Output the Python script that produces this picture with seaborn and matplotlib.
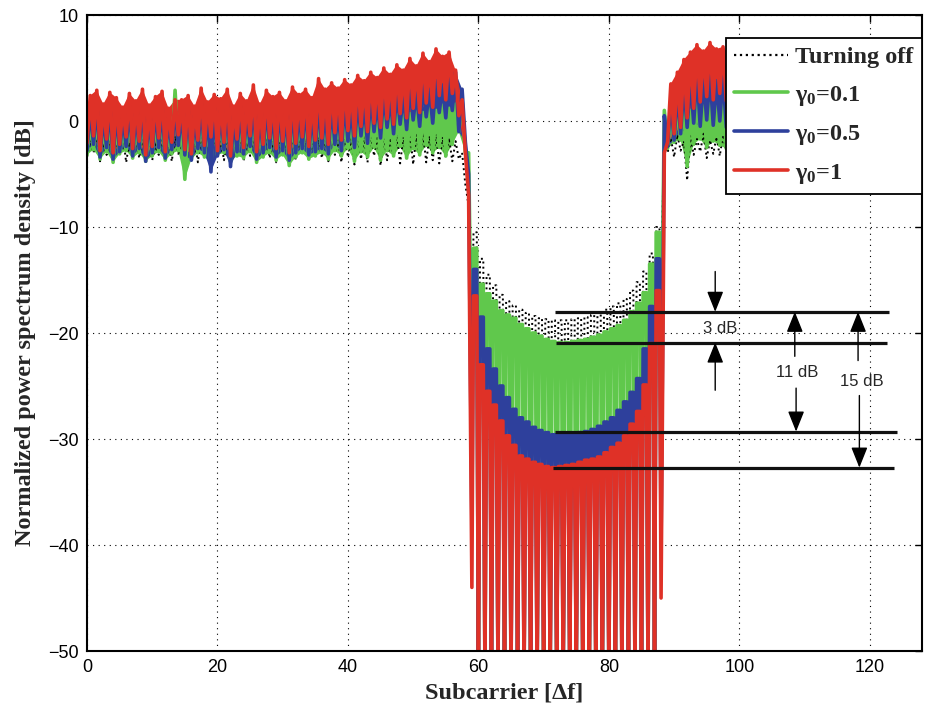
import numpy as np
import pandas as pd
import matplotlib
matplotlib.use("Agg")
import matplotlib.pyplot as plt
import seaborn as sns
from matplotlib.lines import Line2D

# ---------------- data ----------------
# lo[k] : trough value at subcarrier k (k = 0..128)
# hi[k] : peak value between subcarrier k and k+1 (k = 0..127)
# -52 = null just below the -50 dB floor of the chart
red_hi = [2.4, 2.9, 1.6, 2.7, 2.2, 1.3, 2.6, 1.9, 3.0, 1.5, 2.3, 2.8, 1.2, 2.0, 2.0, 2.4, 1.4, 3.1, 1.8, 2.5,
          2.1, 3.0, 1.4, 2.6, 1.9, 3.4, 1.6, 2.9, 2.3, 2.7, 1.9, 3.2, 2.5, 3.0, 2.2, 4.0,
          3.0, 3.6, 3.1, 3.9, 3.4, 4.3, 3.8, 4.6, 4.1, 5.0, 4.4, 5.3, 4.8, 5.9, 5.2, 6.4, 5.6, 6.8, 6.1, 6.5, 4.8, 2.0,
          -7.0, -16.5,
          -23.0, -25.5, -26.8, -28.3, -29.7, -30.6, -31.6, -31.9, -32.2, -32.4, -32.6, -32.7, -32.6, -32.5,
          -32.4, -32.2, -32.0, -31.9, -31.7, -31.3, -30.8, -30.4, -29.7, -28.6, -27.4, -24.9, -21.0, -16.0,
          -3.0, 3.5, 4.6, 5.8, 6.5, 7.2, 6.6, 7.4, 6.8, 7.0, 6.2, 5.6,
          5.0, 4.4, 4.8, 3.9, 4.2, 3.5, 3.8, 3.1, 3.4, 2.8, 3.2, 2.6, 2.9, 2.3, 2.7, 2.1, 2.5, 1.9, 2.4, 1.8,
          2.2, 1.6, 2.0, 1.5, 1.9, 1.4, 1.8, 1.6]
red_lo = [-2.1, -1.4, -2.8, -1.7, -3.0, -2.2, -1.5, -2.6, -1.9, -3.2, -2.4, -1.6, -2.9, -2.0, -1.3, -2.7, -3.1, -1.8,
          -2.3, -1.5, -2.8, -2.0, -3.3, -1.7, -2.5, -1.4, -2.9, -2.2, -1.6, -2.6, -1.9, -3.0, -2.1, -1.5, -2.4, -1.8,
          -1.6, -2.2, -1.1, -1.8, -0.9, -1.4, -0.5, -1.0, -0.2, -0.6, 0.2, -0.3, 0.7, 0.3, 1.2, 0.8, 1.7, 1.3, 2.4, 2.0, 2.6, 0.5,
          -3.0, -44.0,
          -52, -52, -52, -52, -52, -52, -52, -52, -52, -52, -52, -52, -52, -52,
          -52, -52, -52, -52, -52, -52, -52, -52, -52, -52, -52, -52, -52, -52,
          -45.0, -2.0, -1.2, -0.6, 0.3, 1.2, 1.8, 2.3, 2.0, 2.6, 1.9, 1.5, 1.0,
          0.5, -0.3, 0.8, -0.5, 0.2, -0.8, 0.4, -0.2, -1.0, 0.1, -0.6, 0.3, -1.2, -0.4, 0.0, -0.9, -0.2, -1.4,
          -0.5, -1.0, -0.1, -1.6, -0.7, -1.1, -0.3, -1.5, -0.8, -1.2]

blue_hi = [1.2, 1.6, 0.6, 1.5, 1.0, 0.4, 1.4, 0.9, 1.7, 0.5, 1.2, 1.5, 0.3, 1.4, 0.9, 1.2, 0.5, 1.8, 0.8, 1.3,
           1.0, 1.7, 0.5, 1.4, 0.9, 1.9, 0.7, 1.6, 1.1, 1.5, 0.9, 1.8, 1.2, 1.7, 1.0, 2.0,
           1.2, 1.7, 1.0, 1.9, 1.3, 2.2, 1.6, 2.5, 1.9, 2.8, 2.2, 3.0, 2.5, 3.3, 2.7, 3.6, 3.0, 3.8, 3.4, 4.2, 4.6, 3.0,
           -5.0, -14.0,
           -18.5, -21.5, -23.4, -25.0, -26.1, -27.2, -28.0, -28.4, -28.9, -29.2, -29.4, -29.6, -29.6, -29.6,
           -29.5, -29.4, -29.3, -29.1, -28.8, -28.4, -28.0, -27.3, -26.5, -25.6, -24.3, -21.5, -17.5, -13.0,
           0.5, 2.0, 2.8, 3.5, 4.0, 4.6, 4.0, 4.4, 3.8, 4.2, 3.6, 3.3,
           3.0, 2.6, 2.9, 2.2, 2.5, 1.9, 2.2, 1.6, 1.9, 1.3, 1.7, 1.1, 1.5, 0.9, 1.3, 0.7, 1.1, 0.6, 1.0, 0.4,
           0.8, 0.3, 0.7, 0.2, 0.6, 0.1, 0.5, 0.3]
blue_lo = [-2.8, -2.2, -3.4, -2.5, -3.6, -2.9, -2.4, -3.3, -2.6, -3.8, -3.0, -2.5, -3.5, -2.7, -2.3, -3.2, -3.7, -2.6,
           -3.0, -4.8, -3.3, -2.7, -4.3, -2.9, -3.1, -2.4, -3.6, -3.0, -2.5, -3.4, -2.8, -3.7, -3.0, -2.6, -3.2, -2.9,
           -2.6, -3.1, -2.2, -2.8, -1.9, -2.5, -1.4, -2.1, -1.0, -1.6, -0.6, -1.2, -0.3, -0.8, 0.1, -0.5, 0.4, -0.2, 0.8, 0.3, 1.0, -1.0,
           -2.0, -38.0,
           -52, -52, -52, -52, -52, -52, -52, -52, -52, -52, -52, -52, -52, -52,
           -52, -52, -52, -52, -52, -52, -52, -52, -52, -52, -52, -52, -52, -52,
           -40.0, -2.4, -1.8, -1.2, -0.6, -0.2, -0.5, 0.1, -0.4, 0.0, -0.6, -0.8, -1.2,
           -1.0, -1.5, -0.8, -1.7, -1.2, -1.9, -1.1, -1.6, -2.0, -1.3, -1.8, -2.2, -1.5, -1.9, -2.4, -1.6, -2.1, -2.5,
           -1.8, -2.3, -2.6, -1.9, -2.4, -2.8, -2.0, -2.5, -2.2, -2.6]

green_hi = [-0.2, 0.4, -0.6, 0.2, -0.4, -0.8, 0.3, -0.3, 0.5, -0.7, 0.0, 0.4, -0.9, 2.9, -0.2, 0.1, -0.6, 0.6, -0.4, 0.2,
            -0.1, 0.5, -0.7, 0.3, -0.3, 0.6, -0.5, 0.4, 0.0, 0.3, -0.4, 0.7, 0.1, 0.4, -0.2, 0.8,
            0.2, -0.3, 0.4, -0.1, 0.6, 0.1, 0.8, 0.3, 1.0, 0.4, 1.1, 0.6, 1.2, 0.7, 1.3, 0.8, 1.4, 1.0, 1.5, 1.2, 1.6, 2.0,
            -3.0, -12.0,
            -15.4, -16.3, -17.0, -17.9, -18.3, -18.6, -19.2, -19.6, -20.0, -20.3, -20.6, -20.8, -20.9, -20.9,
            -20.8, -20.7, -20.6, -20.4, -20.2, -19.9, -19.6, -19.3, -18.8, -18.0, -17.2, -16.2, -13.5, -10.5,
            1.0, 0.5, 1.2, 1.8, 1.0, 2.2, 1.5, 2.0, 1.4, 1.8, 1.2, 1.5,
            0.9, 1.3, 0.6, 1.0, 0.4, 0.8, 0.2, 0.6, 0.0, 0.5, -0.1, 0.4, -0.3, 0.2, -0.4, 0.1, -0.5, 0.0, -0.6, -0.1,
            -0.7, -0.2, -0.8, -0.3, -0.6, -0.4, -0.7, -0.5]
green_lo = [-3.2, -2.7, -3.6, -2.9, -3.9, -3.1, -2.8, -3.5, -3.0, -3.8, -3.3, -2.9, -3.7, -3.1, -2.8, -5.5, -3.6, -3.0,
            -3.4, -3.9, -3.2, -3.0, -3.8, -3.3, -3.5, -2.9, -3.9, -3.4, -3.0, -3.7, -3.2, -4.2, -3.4, -3.0, -3.6, -3.3,
            -3.0, -3.6, -2.8, -3.3, -2.6, -3.8, -2.9, -3.4, -2.5, -3.7, -2.8, -3.3, -2.4, -3.5, -2.6, -3.2, -2.3, -3.0, -2.5, -3.3, -2.2, -1.0,
            -3.0, -25.0,
            -52, -52, -52, -52, -52, -52, -52, -52, -52, -52, -52, -52, -52, -52,
            -52, -52, -52, -52, -52, -52, -52, -52, -52, -52, -52, -52, -52, -52,
            -25.0, -2.6, -2.0, -1.8, -4.3, -2.2, -1.7, -2.5, -1.9, -2.3, -2.6, -2.1, -2.4,
            -2.2, -2.7, -2.0, -2.9, -2.4, -2.1, -2.8, -2.3, -3.0, -2.5, -2.2, -2.9, -2.6, -3.1, -2.4, -2.8, -3.2, -2.6,
            -2.9, -3.3, -2.7, -3.0, -3.4, -2.8, -3.1, -3.5, -2.9, -3.2]

off_hi = [-1.8, -1.4, -2.1, -1.6, -1.9, -1.3, -2.0, -1.5, -1.7, -1.2, -2.2, -1.6, -1.9, -1.4, -2.0, -1.5, -1.8, -1.3,
          -2.1, -1.6, -1.9, -1.4, -1.7, -1.2, -2.0, -1.5, -1.8, -1.3, -1.9, -1.6, -2.1, -1.4, -1.7, -1.3, -1.9, -1.5,
          -1.6, -1.3, -1.8, -1.2, -1.7, -1.1, -1.5, -1.0, -1.4, -1.1, -1.6, -1.2, -1.5, -1.0, -1.3, -1.1, -1.4, -1.2, -1.5, -1.6, -1.9, -3.0,
          -8.0, -10.5,
          -13.0, -14.5, -15.5, -16.4, -17.0, -17.4, -17.8, -18.1, -18.4, -18.6, -18.7, -18.8, -18.8, -18.8,
          -18.7, -18.6, -18.5, -18.3, -18.1, -17.8, -17.5, -17.2, -16.8, -16.0, -15.2, -14.2, -12.5, -10.0,
          -2.0, -1.6, -1.3, -1.9, -1.4, -1.7, -1.2, -1.8, -1.5, -1.3, -1.9, -1.4,
          -1.6, -1.2, -1.8, -1.4, -1.7, -1.3, -1.9, -1.5, -1.6, -1.2, -1.8, -1.4, -1.7, -1.3, -1.9, -1.5, -1.6, -1.2,
          -1.8, -1.4, -1.7, -1.3, -1.9, -1.5, -1.6, -1.4, -1.8, -1.5]
off_lo = [-3.4, -3.0, -3.8, -3.2, -3.6, -3.1, -3.9, -3.3, -3.5, -3.0, -3.7, -3.2, -3.4, -3.8, -3.1, -3.6, -3.3, -3.9,
          -3.0, -3.5, -3.2, -3.7, -3.4, -3.1, -3.8, -3.3, -3.6, -3.0, -3.5, -3.9, -3.2, -3.4, -3.7, -3.1, -3.6, -3.3,
          -3.5, -3.8, -3.2, -3.9, -3.4, -4.1, -3.6, -3.9, -3.3, -4.2, -3.7, -3.5, -4.0, -3.6, -4.1, -3.4, -3.9, -3.7, -4.0, -3.5, -3.8, -3.6,
          -6.0, -20.0,
          -52, -52, -52, -52, -52, -52, -52, -52, -52, -52, -52, -52, -52, -52,
          -52, -52, -52, -52, -52, -52, -52, -52, -52, -52, -52, -52, -52, -52,
          -14.0, -3.0, -3.4, -2.8, -5.6, -3.2, -2.9, -3.5, -3.1, -3.3, -2.8, -3.4, -3.0,
          -3.2, -3.6, -3.0, -3.4, -3.8, -3.1, -3.5, -3.3, -3.7, -3.0, -3.4, -3.6, -3.2, -3.8, -3.3, -3.5, -3.1, -3.7,
          -3.4, -3.2, -3.6, -3.0, -3.5, -3.3, -3.8, -3.1, -3.4, -3.2]

series_labels = ["Turning off", r"$\gamma_0$=0.1", r"$\gamma_0$=0.5", r"$\gamma_0$=1"]

# annotation data
level_db = [-18.0, -20.9, -29.3, -32.7]
level_start = [71.8, 71.9, 71.8, 71.4]
level_end = [122.9, 122.7, 124.1, 123.7]
arrow_x = [96.3, 96.3, 108.5, 108.7, 118.2, 118.4]
arrow_from = [-14.2, -25.4, -22.2, -25.2, -22.6, -25.9]
arrow_to = [-18.0, -20.9, -18.0, -29.3, -18.0, -32.7]
gap_text = ["3 dB", "11 dB", "15 dB"]
gap_x = [97.1, 108.8, 118.7]
gap_y = [-19.6, -23.7, -24.6]

xticks = [0, 20, 40, 60, 80, 100, 120]
yticks = [-50, -40, -30, -20, -10, 0, 10]

for arr, n in [(red_hi, 128), (red_lo, 129), (blue_hi, 128), (blue_lo, 129), (green_hi, 128),
               (green_lo, 129), (off_hi, 128), (off_lo, 129)]:
    assert len(arr) == n, (len(arr), n)

# ---------------- style ----------------
sns.set_style("white")
plt.rcParams["font.family"] = ["Liberation Serif", "DejaVu Sans"]
plt.rcParams["mathtext.fontset"] = "custom"
plt.rcParams["mathtext.rm"] = "Liberation Serif:bold"
plt.rcParams["mathtext.it"] = "Liberation Serif:bold"
plt.rcParams["mathtext.bf"] = "Liberation Serif:bold"

RED = "#DF3127"
BLUE = "#2E409C"
GREEN = "#60C84C"

NOTCH = range(59, 88)


def trace(lo, hi):
    xs, ys = [], []
    for k in range(128):
        xs.append(k)
        ys.append(lo[k])
        if k in NOTCH:
            xs += [k + 0.25, k + 0.75]
            ys += [hi[k], hi[k]]
        else:
            xs.append(k + 0.5)
            ys.append(hi[k])
    xs.append(128)
    ys.append(lo[128])
    return pd.DataFrame({"Subcarrier": xs, "PSD": ys})


def band(lo, hi, k0, k1):
    """polygon through the peaks (top) and troughs (bottom) of a pass-band segment"""
    top = [(k + 0.5, hi[k]) for k in range(k0, k1)]
    bottom = [(k, lo[k]) for k in range(k1, k0 - 1, -1)]
    pts = [(k0, lo[k0])] + top + bottom
    return [p[0] for p in pts], [p[1] for p in pts]


fig = plt.figure(figsize=(9.28, 7.09), dpi=100)
ax = fig.add_axes([87 / 928, 1 - 651 / 709, 835 / 928, 636 / 709])

plot_spec = [
    (off_lo, off_hi, "black", ":", 1.4, False),
    (green_lo, green_hi, GREEN, "-", 2.6, True),
    (blue_lo, blue_hi, BLUE, "-", 2.6, True),
    (red_lo, red_hi, RED, "-", 2.6, True),
]
for lo, hi, col, ls, lw, filled in plot_spec:
    if filled:
        for k0, k1 in [(0, 58), (89, 128)]:
            bx, by = band(lo, hi, k0, k1)
            ax.fill(bx, by, color=col, lw=0)
    df = trace(lo, hi)
    sns.lineplot(data=df, x="Subcarrier", y="PSD", ax=ax, color=col, linewidth=lw,
                 estimator=None, sort=False, legend=False)
    ax.lines[-1].set_linestyle(ls)

# reference levels and arrows
for lv, s, e in zip(level_db, level_start, level_end):
    ax.plot([s, e], [lv, lv], color="#111111", lw=2.3, solid_capstyle="butt", zorder=6)
for x, y0, y1 in zip(arrow_x, arrow_from, arrow_to):
    ax.annotate("", xy=(x, y1), xytext=(x, y0),
                arrowprops=dict(arrowstyle="-|>,head_length=0.7,head_width=0.28",
                                color="black", lw=1.0, shrinkA=0, shrinkB=0,
                                mutation_scale=18), zorder=7)
for t, x, y in zip(gap_text, gap_x, gap_y):
    ax.text(x, y, t, ha="center", va="center", fontsize=12, family="Liberation Sans", zorder=7)

ax.set_xlim(0, 128)
ax.set_ylim(-50, 10)
ax.set_xticks(xticks)
ax.set_yticks(yticks)
ax.grid(True, color="black", linestyle=(0, (1, 4)), linewidth=0.8)
ax.tick_params(direction="in", length=5, width=1, top=True, right=True, labelsize=13, pad=6,
               colors="black")
for lab in ax.get_xticklabels() + ax.get_yticklabels():
    lab.set_family("Liberation Sans")
for sp in ax.spines.values():
    sp.set_visible(True)
    sp.set_linewidth(1.5)
    sp.set_color("black")

ax.set_xlabel("Subcarrier [Δf]", fontsize=17.5, fontweight="bold", family="Liberation Serif")
ax.set_ylabel("Normalized power spectrum density [dB]", fontsize=17.5, fontweight="bold",
              family="Liberation Serif")
ax.xaxis.set_label_coords(0.5, -0.05)
ax.yaxis.set_label_coords(-0.061, 0.5)

handles = [
    Line2D([], [], color="black", ls=":", lw=1.6),
    Line2D([], [], color=GREEN, lw=2.6),
    Line2D([], [], color=BLUE, lw=2.6),
    Line2D([], [], color=RED, lw=2.6),
]
leg = ax.legend(handles, series_labels, loc="upper right", bbox_to_anchor=(1.0, 0.964),
                borderaxespad=0, prop={"family": "Liberation Serif", "weight": "bold", "size": 17.5},
                handlelength=2.2, handletextpad=0.3, labelspacing=0.62, borderpad=0.35,
                frameon=True, fancybox=False, framealpha=1, edgecolor="black")
leg.get_frame().set_linewidth(1.3)
leg.set_zorder(10)

fig.savefig("out.png", dpi=100, facecolor="white")
